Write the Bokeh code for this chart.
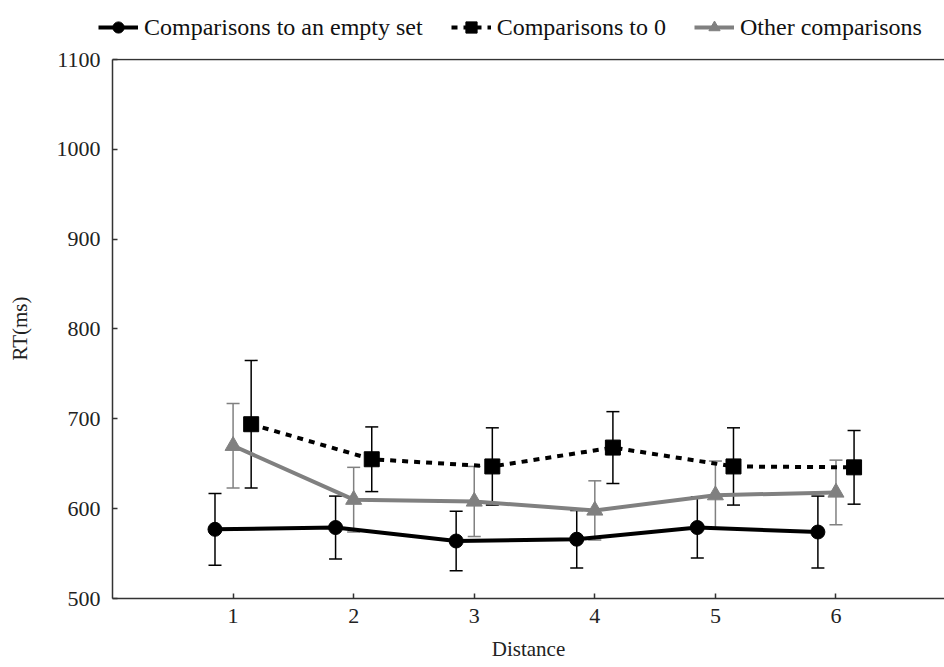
from bokeh.plotting import figure
from bokeh.models import (ColumnDataSource, Range1d, FixedTicker, Whisker, TeeHead,
                          Legend, LegendItem, Span)
from bokeh.embed import file_html
from bokeh.resources import INLINE

# ---- data ----
distance = [1, 2, 3, 4, 5, 6]
empty_mean = [577, 579, 564, 566, 579, 574]
empty_err = [40, 35, 33, 32, 34, 40]
zero_mean = [694, 655, 647, 668, 647, 646]
zero_err = [71, 36, 43, 40, 43, 41]
other_mean = [670, 610, 608, 598, 615, 618]
other_err = [47, 36, 39, 33, 38, 36]
x_ticks = [1, 2, 3, 4, 5, 6]
y_ticks = [500, 600, 700, 800, 900, 1000, 1100]
labels = ["Comparisons to an empty set", "Comparisons to 0", "Other comparisons"]

FONT = "Liberation Serif"
GRAY = "#808080"
AXC = "#333333"


def make_src(mean, err, shift):
    return ColumnDataSource(dict(
        x=[d + shift for d in distance],
        y=mean,
        upper=[m + e for m, e in zip(mean, err)],
        lower=[m - e for m, e in zip(mean, err)],
    ))


src_empty = make_src(empty_mean, empty_err, -0.15)
src_zero = make_src(zero_mean, zero_err, 0.15)
src_other = make_src(other_mean, other_err, 0.0)

STYLE = {
    "other": dict(line=dict(line_color=GRAY, line_width=4),
                  mark=dict(marker="triangle", size=16, fill_color=GRAY, line_color=GRAY)),
    "zero": dict(line=dict(line_color="black", line_width=4, line_dash="6 6"),
                 mark=dict(marker="square", size=15, fill_color="black", line_color="black")),
    "empty": dict(line=dict(line_color="black", line_width=4),
                  mark=dict(marker="circle", size=14, fill_color="black", line_color="black")),
}
SRC = {"other": src_other, "zero": src_zero, "empty": src_empty}

# ---------------- main chart ----------------
p = figure(width=944, height=620, output_backend="svg", toolbar_location=None,
           x_range=Range1d(0, 6.9), y_range=Range1d(500, 1101.1),
           min_border_left=112, min_border_right=0, min_border_top=11,
           min_border_bottom=69)
p.outline_line_color = None
p.xgrid.visible = False
p.ygrid.visible = False
p.background_fill_color = "white"
p.border_fill_color = "white"

# top frame line at 1100
p.add_layout(Span(location=1100, dimension="width", line_color=AXC, line_width=1.5))

# error bars
for key in ("other", "zero", "empty"):
    col = GRAY if key == "other" else "black"
    w = Whisker(source=SRC[key], base="x", upper="upper", lower="lower",
                line_color=col, line_width=1.5,
                upper_head=TeeHead(size=13, line_color=col, line_width=1.5),
                lower_head=TeeHead(size=13, line_color=col, line_width=1.5))
    p.add_layout(w)

for key in ("other", "zero", "empty"):
    p.line("x", "y", source=SRC[key], **STYLE[key]["line"])
    p.scatter("x", "y", source=SRC[key], **STYLE[key]["mark"])

for ax in (p.xaxis[0], p.yaxis[0]):
    ax.axis_line_color = AXC
    ax.axis_line_width = 1.5
    ax.major_tick_line_color = AXC
    ax.major_tick_line_width = 1.5
    ax.major_tick_in = 5
    ax.major_tick_out = 0
    ax.minor_tick_line_color = None
    ax.major_label_text_font = FONT
    ax.major_label_text_font_size = "22px"
    ax.major_label_text_color = "#222222"
    ax.axis_label_text_font = FONT
    ax.axis_label_text_font_size = "21px"
    ax.axis_label_text_font_style = "normal"
    ax.axis_label_text_color = "#222222"

p.yaxis.bounds = (500, 1100)
p.xaxis.ticker = FixedTicker(ticks=x_ticks)
p.yaxis.ticker = FixedTicker(ticks=y_ticks)
p.xaxis.axis_label = "Distance"
p.yaxis.axis_label = "RT(ms)"
p.xaxis.major_label_standoff = 10
p.yaxis.major_label_standoff = 12
p.xaxis.axis_label_standoff = 11
p.yaxis.axis_label_standoff = 22

# ---------------- legend strip above the chart (separate root) ----------------
lg = figure(width=944, height=47, output_backend="svg", toolbar_location=None,
            x_range=Range1d(100, 101), y_range=Range1d(0, 1),
            x_axis_location=None, y_axis_location=None,
            min_border_left=0, min_border_right=0, min_border_top=0, min_border_bottom=0)
lg.outline_line_color = None
lg.grid.visible = False
lg.background_fill_color = "white"
lg.border_fill_color = "white"

items = []
for key, lab in zip(("empty", "zero", "other"), labels):
    rl = lg.line("x", "y", source=SRC[key], **STYLE[key]["line"])
    rm = lg.scatter("x", "y", source=SRC[key], **STYLE[key]["mark"])
    items.append(LegendItem(label=lab, renderers=[rl, rm]))

legend = Legend(items=items, orientation="horizontal", location=(98, 6), margin=0,
                padding=2, spacing=28, label_standoff=6, glyph_width=40, glyph_height=28,
                label_text_font=FONT, label_text_font_size="24px",
                label_text_color="#111111", background_fill_alpha=0,
                border_line_color=None)
lg.add_layout(legend)

open("out.html", "w").write(file_html([lg, p], INLINE))
